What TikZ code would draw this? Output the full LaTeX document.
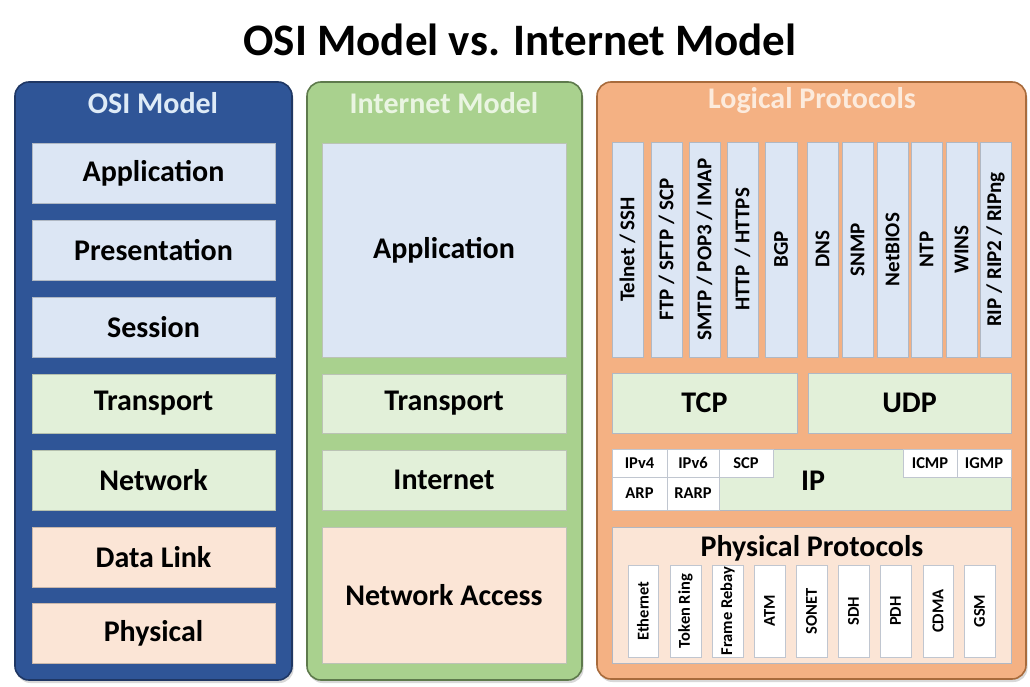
\documentclass[tikz,border=0pt]{standalone}
\usepackage{fontspec}
\setmainfont{Carlito}
\usetikzlibrary{shadows}
\definecolor{osiblue}{HTML}{2F5597}
\definecolor{osiedge}{HTML}{1F3764}
\definecolor{inetgreen}{HTML}{A9D18E}
\definecolor{inetedge}{HTML}{5E7A4C}
\definecolor{logorange}{HTML}{F4B183}
\definecolor{logedge}{HTML}{A86B3C}
\definecolor{lblue}{HTML}{DCE6F4}
\definecolor{lgreen}{HTML}{E2F0D9}
\definecolor{lpeach}{HTML}{FBE5D6}
\definecolor{osititle}{HTML}{DEEBF7}
\definecolor{inettitle}{HTML}{EAF5E2}
\definecolor{logtitle}{HTML}{FCEBDD}
\definecolor{boxedge}{HTML}{B0B8C4}
\newcommand\rbox[7]{\node[#6, minimum width={(#4-#2)*1pt}, minimum height={(#5-#3)*1pt}] (#1) at ({(#2+#4)/2},{(#3+#5)/2}) {#7};}
\tikzset{
  panel/.style={rounded corners=14pt, line width=1.6pt, inner sep=0pt, outer sep=0pt,
    drop shadow={opacity=0.3, shadow xshift=1.5pt, shadow yshift=-3pt}},
  layer/.style={inner sep=0pt, outer sep=0pt, line width=0.6pt, text=black,
    font=\bfseries\fontsize{30}{32}\selectfont},
  ptitle/.style={inner sep=0pt, font=\bfseries\fontsize{30}{32}\selectfont},
  vbox/.style={inner sep=0pt, outer sep=0pt, line width=0.6pt, draw=boxedge, fill=lblue},
  wbox/.style={inner sep=0pt, outer sep=0pt, line width=0.6pt, draw=boxedge!80, fill=white},
  vtext/.style={rotate=90, inner sep=0pt, font=\bfseries\fontsize{21}{22}\selectfont},
  ptext/.style={rotate=90, inner sep=0pt, font=\bfseries\fontsize{16.5}{17}\selectfont},
  stext/.style={inner sep=0pt, outer sep=0pt, line width=0.6pt, draw=boxedge!80, fill=white,
    font=\bfseries\fontsize{16.5}{17}\selectfont},
}
\begin{document}
\begin{tikzpicture}[x=1pt,y=-1pt]
\useasboundingbox (0,0) rectangle (1030,687);
\fill[white] (0,0) rectangle (1030,687);
\node[font=\bfseries\fontsize{45}{47}\selectfont, inner sep=0pt] (title) at (520,40) {OSI Model vs. Internet Model};

% OSI panel
\rbox{osi}{15}{82}{292}{680}{panel, draw=osiedge, fill=osiblue}{}
\node[ptitle, text=osititle] (osi-t) at (153,103) {OSI Model};
\rbox{o7}{32}{143}{275}{203}{layer, draw=lblue!80!black, fill=lblue}{Application}
\rbox{o6}{32}{220}{275}{280}{layer, draw=lblue!80!black, fill=lblue}{Presentation}
\rbox{o5}{32}{297}{275}{357}{layer, draw=lblue!80!black, fill=lblue}{Session}
\rbox{o4}{32}{374}{275}{433}{layer, draw=lgreen!80!black, fill=lgreen}{Transport}
\rbox{o3}{32}{450}{275}{510}{layer, draw=lgreen!80!black, fill=lgreen}{Network}
\rbox{o2}{32}{527}{275}{587}{layer, draw=lpeach!80!black, fill=lpeach}{Data Link}
\rbox{o1}{32}{603}{275}{663}{layer, draw=lpeach!80!black, fill=lpeach}{Physical}

% Internet panel
\rbox{inet}{307}{82}{582}{680}{panel, draw=inetedge, fill=inetgreen}{}
\node[ptitle, text=inettitle] (inet-t) at (444,103) {Internet Model};
\rbox{i4}{322}{143}{566}{357}{layer, draw=lgreen!60!gray, fill=lblue}{Application}
\rbox{i3}{322}{374}{566}{433}{layer, draw=lgreen!60!gray, fill=lgreen}{Transport}
\rbox{i2}{322}{450}{566}{510}{layer, draw=lgreen!60!gray, fill=lgreen}{Internet}
\rbox{i1}{322}{527}{566}{663}{layer, draw=lgreen!60!gray, fill=lpeach}{Network Access}

% Logical protocols panel
\rbox{log}{597}{82}{1026}{679}{panel, draw=logedge, fill=logorange}{}
\node[ptitle, text=logtitle] (log-t) at (812,101) {Logical Protocols};

\rbox{pa}{612}{142}{643}{357}{vbox}{}
\rbox{pb}{651}{142}{682}{357}{vbox}{}
\rbox{pc}{689}{142}{720}{357}{vbox}{}
\rbox{pd}{727}{142}{758}{357}{vbox}{}
\rbox{pe}{765}{142}{797}{357}{vbox}{}
\rbox{pf}{807}{142}{838}{357}{vbox}{}
\rbox{pg}{842}{142}{873}{357}{vbox}{}
\rbox{ph}{877}{142}{908}{357}{vbox}{}
\rbox{pi}{911}{142}{942}{357}{vbox}{}
\rbox{pj}{946}{142}{977}{357}{vbox}{}
\rbox{pk}{980}{142}{1011}{357}{vbox}{}
\node[vtext] (pa-t) at (pa) {Telnet / SSH};
\node[vtext] (pb-t) at (pb) {FTP / SFTP / SCP};
\node[vtext] (pc-t) at (pc) {SMTP / POP3 / IMAP};
\node[vtext] (pd-t) at (pd) {HTTP \,/ HTTPS};
\node[vtext] (pe-t) at (pe) {BGP};
\node[vtext] (pf-t) at (pf) {DNS};
\node[vtext] (pg-t) at (pg) {SNMP};
\node[vtext] (ph-t) at (ph) {NetBIOS};
\node[vtext] (pi-t) at (pi) {NTP};
\node[vtext] (pj-t) at (pj) {WINS};
\node[vtext] (pk-t) at (pk) {RIP / RIP2 / RIPng};

\rbox{tcp}{612}{373}{797}{433}{layer, draw=boxedge, fill=lgreen}{TCP}
\rbox{udp}{808}{373}{1011}{433}{layer, draw=boxedge, fill=lgreen}{UDP}

\rbox{ip}{612}{449}{1011}{510}{layer, draw=boxedge, fill=lgreen}{}
\node[layer, draw=none] (ip-t) at (813,481) {IP};
\rbox{ipv4}{612}{449}{667}{477}{stext}{IPv4}
\rbox{ipv6}{667}{449}{719}{477}{stext}{IPv6}
\rbox{scp}{719}{449}{773}{477}{stext}{SCP}
\rbox{arp}{612}{477}{667}{510}{stext}{ARP}
\rbox{rarp}{667}{477}{719}{510}{stext}{RARP}
\rbox{icmp}{903}{449}{957}{477}{stext}{ICMP}
\rbox{igmp}{957}{449}{1011}{477}{stext}{IGMP}

\rbox{phys}{612}{527}{1011}{663}{layer, draw=boxedge, fill=lpeach}{}
\node[ptitle] (phys-t) at (812,548) {Physical Protocols};
\rbox{qa}{628}{565}{658}{657}{wbox}{}
\rbox{qb}{670}{565}{701}{657}{wbox}{}
\rbox{qc}{712}{565}{743}{657}{wbox}{}
\rbox{qd}{754}{565}{785}{657}{wbox}{}
\rbox{qe}{796}{565}{827}{657}{wbox}{}
\rbox{qf}{838}{565}{869}{657}{wbox}{}
\rbox{qg}{880}{565}{911}{657}{wbox}{}
\rbox{qh}{923}{565}{953}{657}{wbox}{}
\rbox{qi}{964}{565}{995}{657}{wbox}{}
\node[ptext] (qa-t) at (qa) {Ethernet};
\node[ptext] (qb-t) at (qb) {Token Ring};
\node[ptext] (qc-t) at (qc) {Frame Rebay};
\node[ptext] (qd-t) at (qd) {ATM};
\node[ptext] (qe-t) at (qe) {SONET};
\node[ptext] (qf-t) at (qf) {SDH};
\node[ptext] (qg-t) at (qg) {PDH};
\node[ptext] (qh-t) at (qh) {CDMA};
\node[ptext] (qi-t) at (qi) {GSM};
\end{tikzpicture}
\end{document}
